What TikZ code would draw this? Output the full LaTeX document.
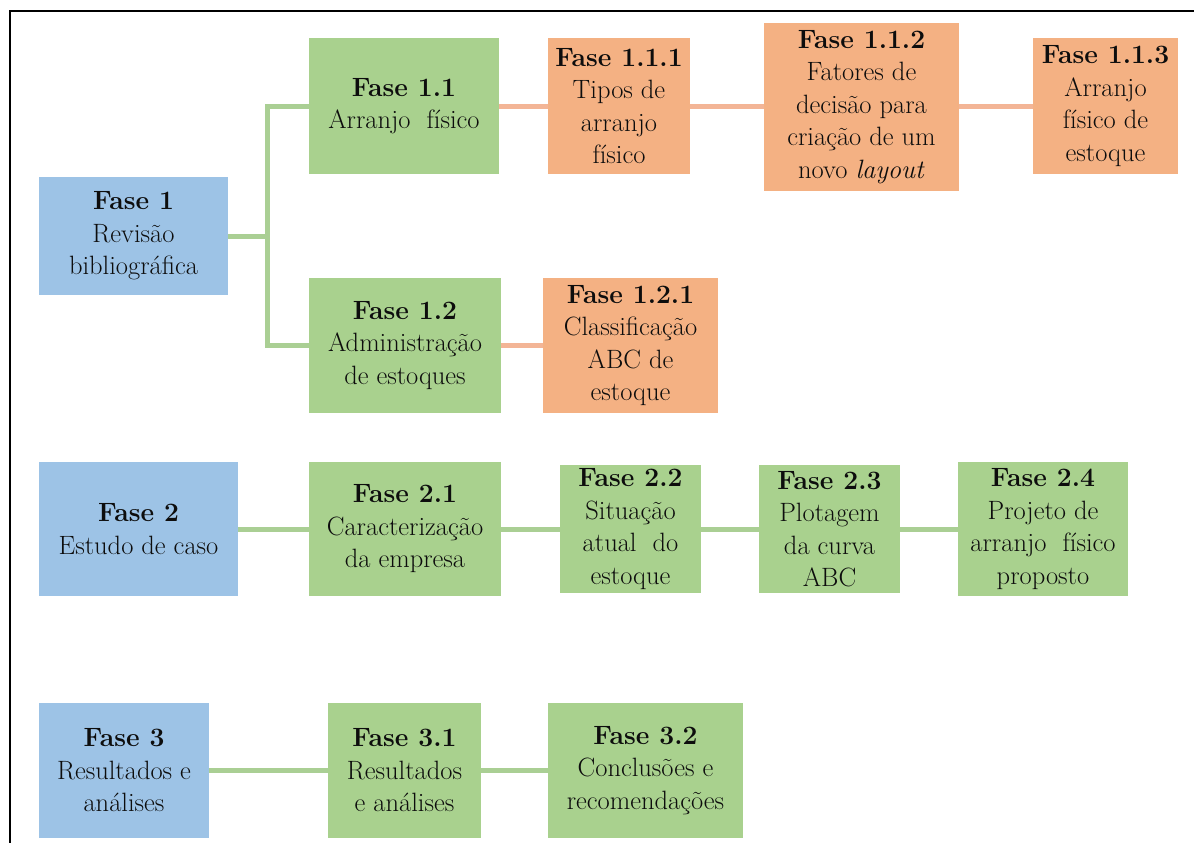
\documentclass[tikz,border=0pt]{standalone}
\usepackage{fontspec}
\definecolor{bluebox}{HTML}{9DC3E6}
\definecolor{greenbox}{HTML}{A9D18E}
\definecolor{orangebox}{HTML}{F4B183}
\definecolor{greenline}{HTML}{AACF94}
\definecolor{orangeline}{HTML}{F3B596}
\definecolor{txt}{HTML}{0D0D0D}
\begin{document}
\begin{tikzpicture}[x=1pt,y=-1pt,
  phase/.style={inner sep=0pt, align=center, text=txt, font=\fontsize{26.5}{32.5}\selectfont},
  bluen/.style={phase, fill=bluebox},
  greenn/.style={phase, fill=greenbox},
  orangen/.style={phase, fill=orangebox},
  glink/.style={draw=greenline, line width=5pt},
  olink/.style={draw=orangeline, line width=5pt},
  framestyle/.style={draw=black, line width=2pt}]
\useasboundingbox (0,0) rectangle (1194,843);
\fill[white] (0,0) rectangle (1194,843);
% frame
\coordinate (fa) at (9.6,843);
\coordinate (fb) at (9.6,11);
\coordinate (fc) at (1194,11);
\draw[framestyle] (fa) -- (fb) -- (fc);
% Fase 1 group
\node[bluen, minimum width=189pt, minimum height=118pt] (f1) at (133.5,236) {\textbf{Fase 1}\\Revisão\\bibliográfica};
\node[greenn, minimum width=190pt, minimum height=136pt] (f11) at (404,106) {\textbf{Fase 1.1}\\Arranjo\ \ físico};
\node[greenn, minimum width=192pt, minimum height=135pt] (f12) at (405,345.5) {\textbf{Fase 1.2}\\Administração\\de estoques};
\node[orangen, minimum width=142pt, minimum height=136pt] (f111) at (619,106) {\textbf{Fase 1.1.1}\\Tipos de\\arranjo\\físico};
\node[orangen, minimum width=195pt, minimum height=168pt] (f112) at (861.5,107) {\textbf{Fase 1.1.2}\\Fatores de\\decisão para\\criação de um\\novo \textit{layout}};
\node[orangen, minimum width=145pt, minimum height=136pt] (f113) at (1105.5,106) {\textbf{Fase 1.1.3}\\Arranjo\\físico de\\estoque};
\node[orangen, minimum width=175pt, minimum height=135pt] (f121) at (630.5,345.5) {\textbf{Fase 1.2.1}\\Classificação\\ABC de\\estoque};
% Fase 2 group
\node[bluen, minimum width=199pt, minimum height=134pt] (f2) at (138.5,529) {\textbf{Fase 2}\\Estudo de caso};
\node[greenn, minimum width=192pt, minimum height=134pt] (f21) at (405,529) {\textbf{Fase 2.1}\\Caracterização\\da empresa};
\node[greenn, minimum width=141pt, minimum height=128pt] (f22) at (630.5,529) {\textbf{Fase 2.2}\\Situação\\atual\ \ do\\estoque};
\node[greenn, minimum width=141pt, minimum height=128pt] (f23) at (829.5,529) {\textbf{Fase 2.3}\\Plotagem\\da curva\\ABC};
\node[greenn, minimum width=170pt, minimum height=134pt] (f24) at (1043,529) {\textbf{Fase 2.4}\\Projeto de\\arranjo\ \ físico\\proposto};
% Fase 3 group
\node[bluen, minimum width=170pt, minimum height=135pt] (f3) at (124,770.5) {\textbf{Fase 3}\\Resultados e\\análises};
\node[greenn, minimum width=153pt, minimum height=135pt] (f31) at (404.5,770.5) {\textbf{Fase 3.1}\\Resultados\\e análises};
\node[greenn, minimum width=195pt, minimum height=135pt] (f32) at (645.5,770.5) {\textbf{Fase 3.2}\\Conclusões e\\recomendações};
% connectors
\coordinate (j1) at (267,236);
\draw[glink] (f1.east) -- (j1);
\draw[glink] (j1) |- (f11.west);
\draw[glink] (j1) |- (f12.west);
\draw[olink] (f11.east) -- (f111.west);
\draw[olink] (f111.east) -- (f112.west |- f111.east);
\draw[olink] (f112.east |- f113.west) -- (f113.west);
\draw[olink] (f12.east) -- (f121.west);
\draw[glink] (f2.east) -- (f21.west);
\draw[glink] (f21.east) -- (f22.west);
\draw[glink] (f22.east) -- (f23.west);
\draw[glink] (f23.east) -- (f24.west);
\draw[glink] (f3.east) -- (f31.west);
\draw[glink] (f31.east) -- (f32.west);
\end{tikzpicture}
\end{document}
